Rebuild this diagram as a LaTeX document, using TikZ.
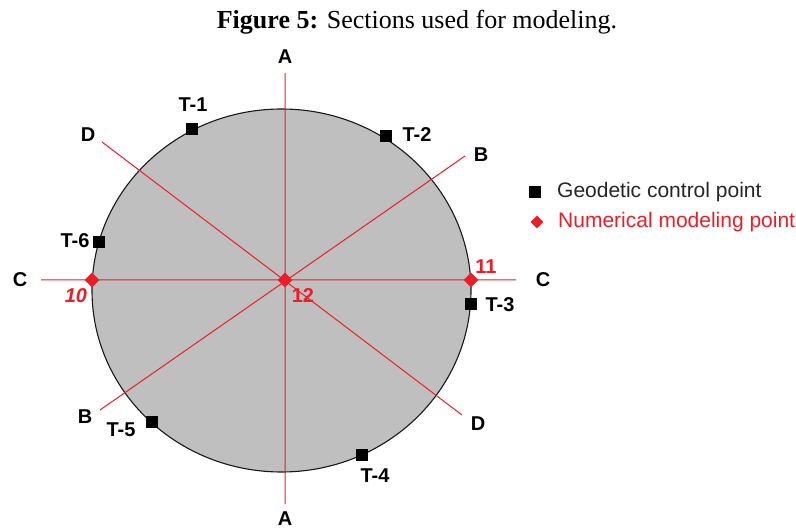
\documentclass[tikz,border=0pt]{standalone}
\usepackage{fontspec}
\setmainfont{Liberation Serif}
\setsansfont{Liberation Sans}
\usepackage{tikz}
\usetikzlibrary{shapes.geometric}
\definecolor{secred}{RGB}{235,30,40}
\tikzset{
  sect/.style={draw=secred,line width=1pt},
  lbl/.style={font=\sffamily\bfseries\fontsize{20}{20}\selectfont,inner sep=0pt},
  numlbl/.style={lbl,text=secred},
  geo/.style={rectangle,fill=black,minimum size=12pt,inner sep=0pt},
  num/.style={diamond,fill=secred,minimum size=15pt,inner sep=0pt}
}

\begin{document}
\begin{tikzpicture}[x=1pt,y=-1pt]
\useasboundingbox (0,0) rectangle (796,529);
% title
\node (title) at (417,22) {\fontsize{26}{26}\selectfont\textbf{Figure 5:} Sections used for modeling.};
% section
\fill[black!25] (281.5,290.5) ellipse [x radius=189.5,y radius=181.5];
\draw[black!90,line width=1.1pt] (281.5,290.5) ellipse [x radius=189.5,y radius=181.5];
% section lines
\coordinate (a1) at (285,73);  \coordinate (a2) at (285,504);
\coordinate (c1) at (41,280);  \coordinate (c2) at (516,280);
\coordinate (d1) at (102,142); \coordinate (d2) at (462,415);
\coordinate (b1) at (465,156); \coordinate (b2) at (100,410);
\draw[sect] (a1) -- (a2) (c1) -- (c2) (d1) -- (d2) (b1) -- (b2);
\node[lbl] (la1) at (285,57) {A};
\node[lbl] (la2) at (285,519) {A};
\node[lbl] (lc1) at (20,280) {C};
\node[lbl] (lc2) at (543,280) {C};
\node[lbl] (ld1) at (88,135) {D};
\node[lbl] (ld2) at (478,424) {D};
\node[lbl] (lb1) at (481,155) {B};
\node[lbl] (lb2) at (85,417) {B};
% geodetic control points
\node[geo] (t1) at (192,129) {};
\node[geo] (t2) at (386,136) {};
\node[geo] (t3) at (471,304) {};
\node[geo] (t4) at (362,455) {};
\node[geo] (t5) at (152,422) {};
\node[geo] (t6) at (99,242) {};
\node[lbl] (lt1) at (193,105) {T-1};
\node[lbl] (lt2) at (417,135) {T-2};
\node[lbl] (lt3) at (500,305) {T-3};
\node[lbl] (lt4) at (375,476) {T-4};
\node[lbl] (lt5) at (121,430) {T-5};
\node[lbl] (lt6) at (75,241) {T-6};
% numerical modeling points
\node[num] (p10) at (92,280) {};
\node[num] (p11) at (471,280) {};
\node[num] (p12) at (285,280) {};
\node[numlbl,font=\sffamily\bfseries\itshape\fontsize{20}{20}\selectfont] (l10) at (76,296) {10};
\node[numlbl] (l11) at (486,267) {11};
\node[numlbl] (l12) at (303,296) {12};
% legend
\node[geo] (kgeo) at (535,192) {};
\node[num,minimum size=13pt] (knum) at (537,222) {};
\node[anchor=west,inner sep=0pt,font=\sffamily\fontsize{21}{21}\selectfont,text=black!85] (tgeo) at (557,192) {Geodetic control point};
\node[anchor=west,inner sep=0pt,font=\sffamily\fontsize{21}{21}\selectfont,text=secred] (tnum) at (558,222) {Numerical modeling point};
\end{tikzpicture}
\end{document}
